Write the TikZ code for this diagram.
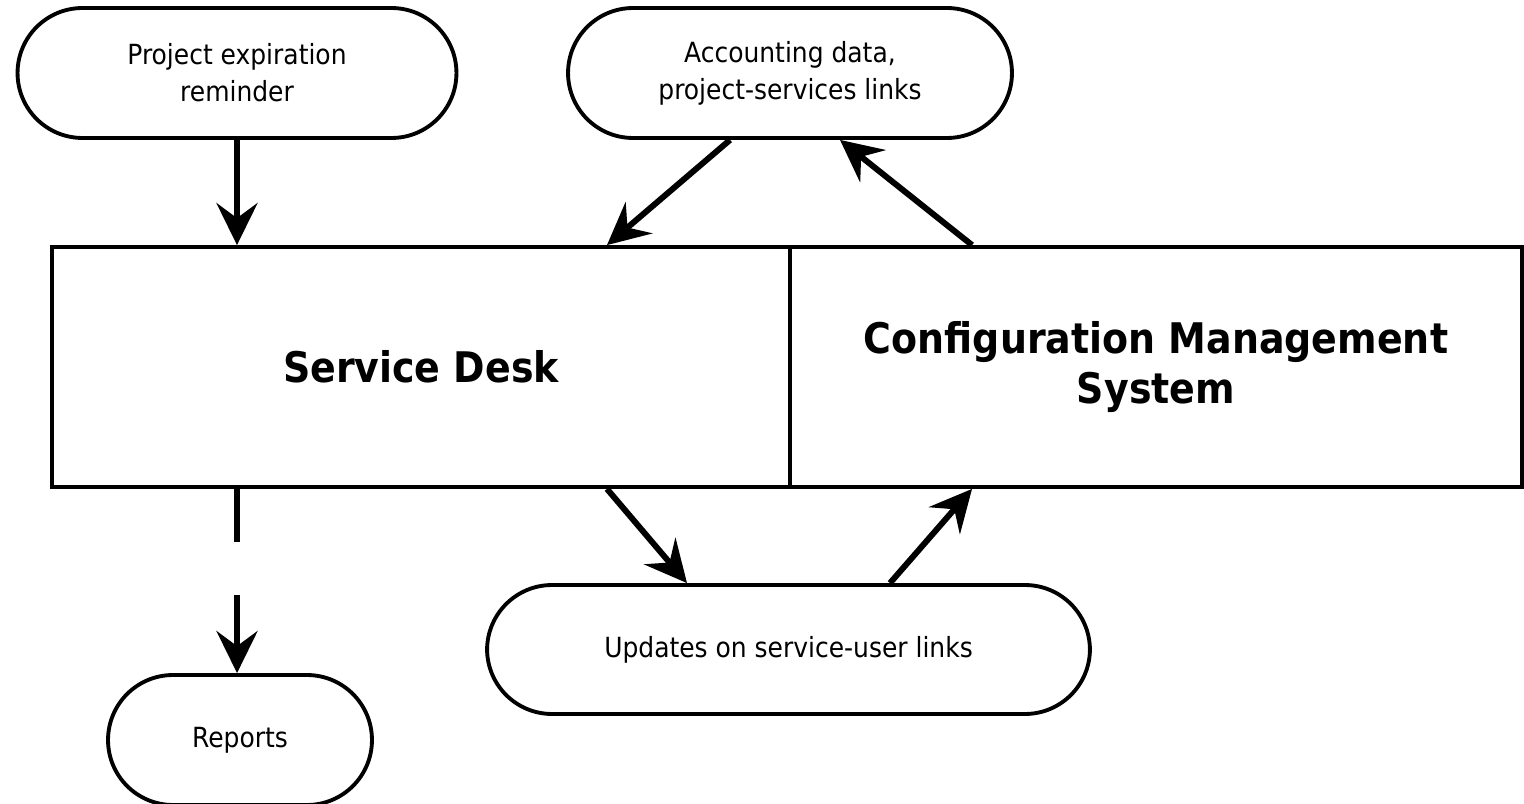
\documentclass[tikz,border=0pt]{standalone}
\usepackage{fontspec}
\setmainfont{DejaVu Sans Condensed}
\usetikzlibrary{arrows.meta,calc}

\tikzset{
  box/.style={draw, line width=2.2pt, rectangle, minimum height=4.8cm, align=center,
    font=\bfseries\fontsize{24}{28}\selectfont},
  terminal/.style={draw, line width=2.2pt, rectangle, rounded corners=1.3cm,
    minimum height=2.6cm, align=center, font=\fontsize{15.8}{21}\selectfont},
  flow/.style={line width=3.4pt, -{Stealth[length=0.84cm, width=0.82cm, inset=0.3cm]}},
}

\begin{document}
\begin{tikzpicture}[x=0.02cm, y=-0.02cm]
  \useasboundingbox (0,0) rectangle (1524,804);

  % main blocks
  \node[box, minimum width=14.76cm] (sd) at (421,367) {Service Desk};
  \node[box, minimum width=14.64cm] (cms) at (1156,367) {Configuration Management\\System};

  % inputs and outputs
  \node[terminal, minimum width=8.78cm] (remind) at (237,73) {Project expiration\\reminder};
  \node[terminal, minimum width=8.88cm] (acct) at (790,73) {Accounting data,\\project-services links};
  \node[terminal, minimum width=12.06cm, minimum height=2.58cm] (upd) at (788.5,649.5) {Updates on service-user links};
  \node[terminal, minimum width=5.28cm] (rep) at (240,740) {Reports};

  % connectors
  \draw[flow] (remind.south) -- (remind.south |- sd.north);
  \draw[flow] ([xshift=-1.2cm]acct.south) -- ([xshift=3.72cm]sd.north);
  \draw[flow] ([xshift=-3.68cm]cms.north) -- ([xshift=1.0cm]acct.south);
  \draw[flow] ([xshift=3.72cm]sd.south) -- ([xshift=-2.03cm]upd.north);
  \draw[flow] ([xshift=2.03cm]upd.north) -- ([xshift=-3.68cm]cms.south);
  \coordinate (rptout) at ([xshift=-3.68cm]sd.south);
  \draw[flow, dash pattern=on 1.06cm off 1.06cm] (rptout) -- (rptout |- rep.north);
\end{tikzpicture}
\end{document}
